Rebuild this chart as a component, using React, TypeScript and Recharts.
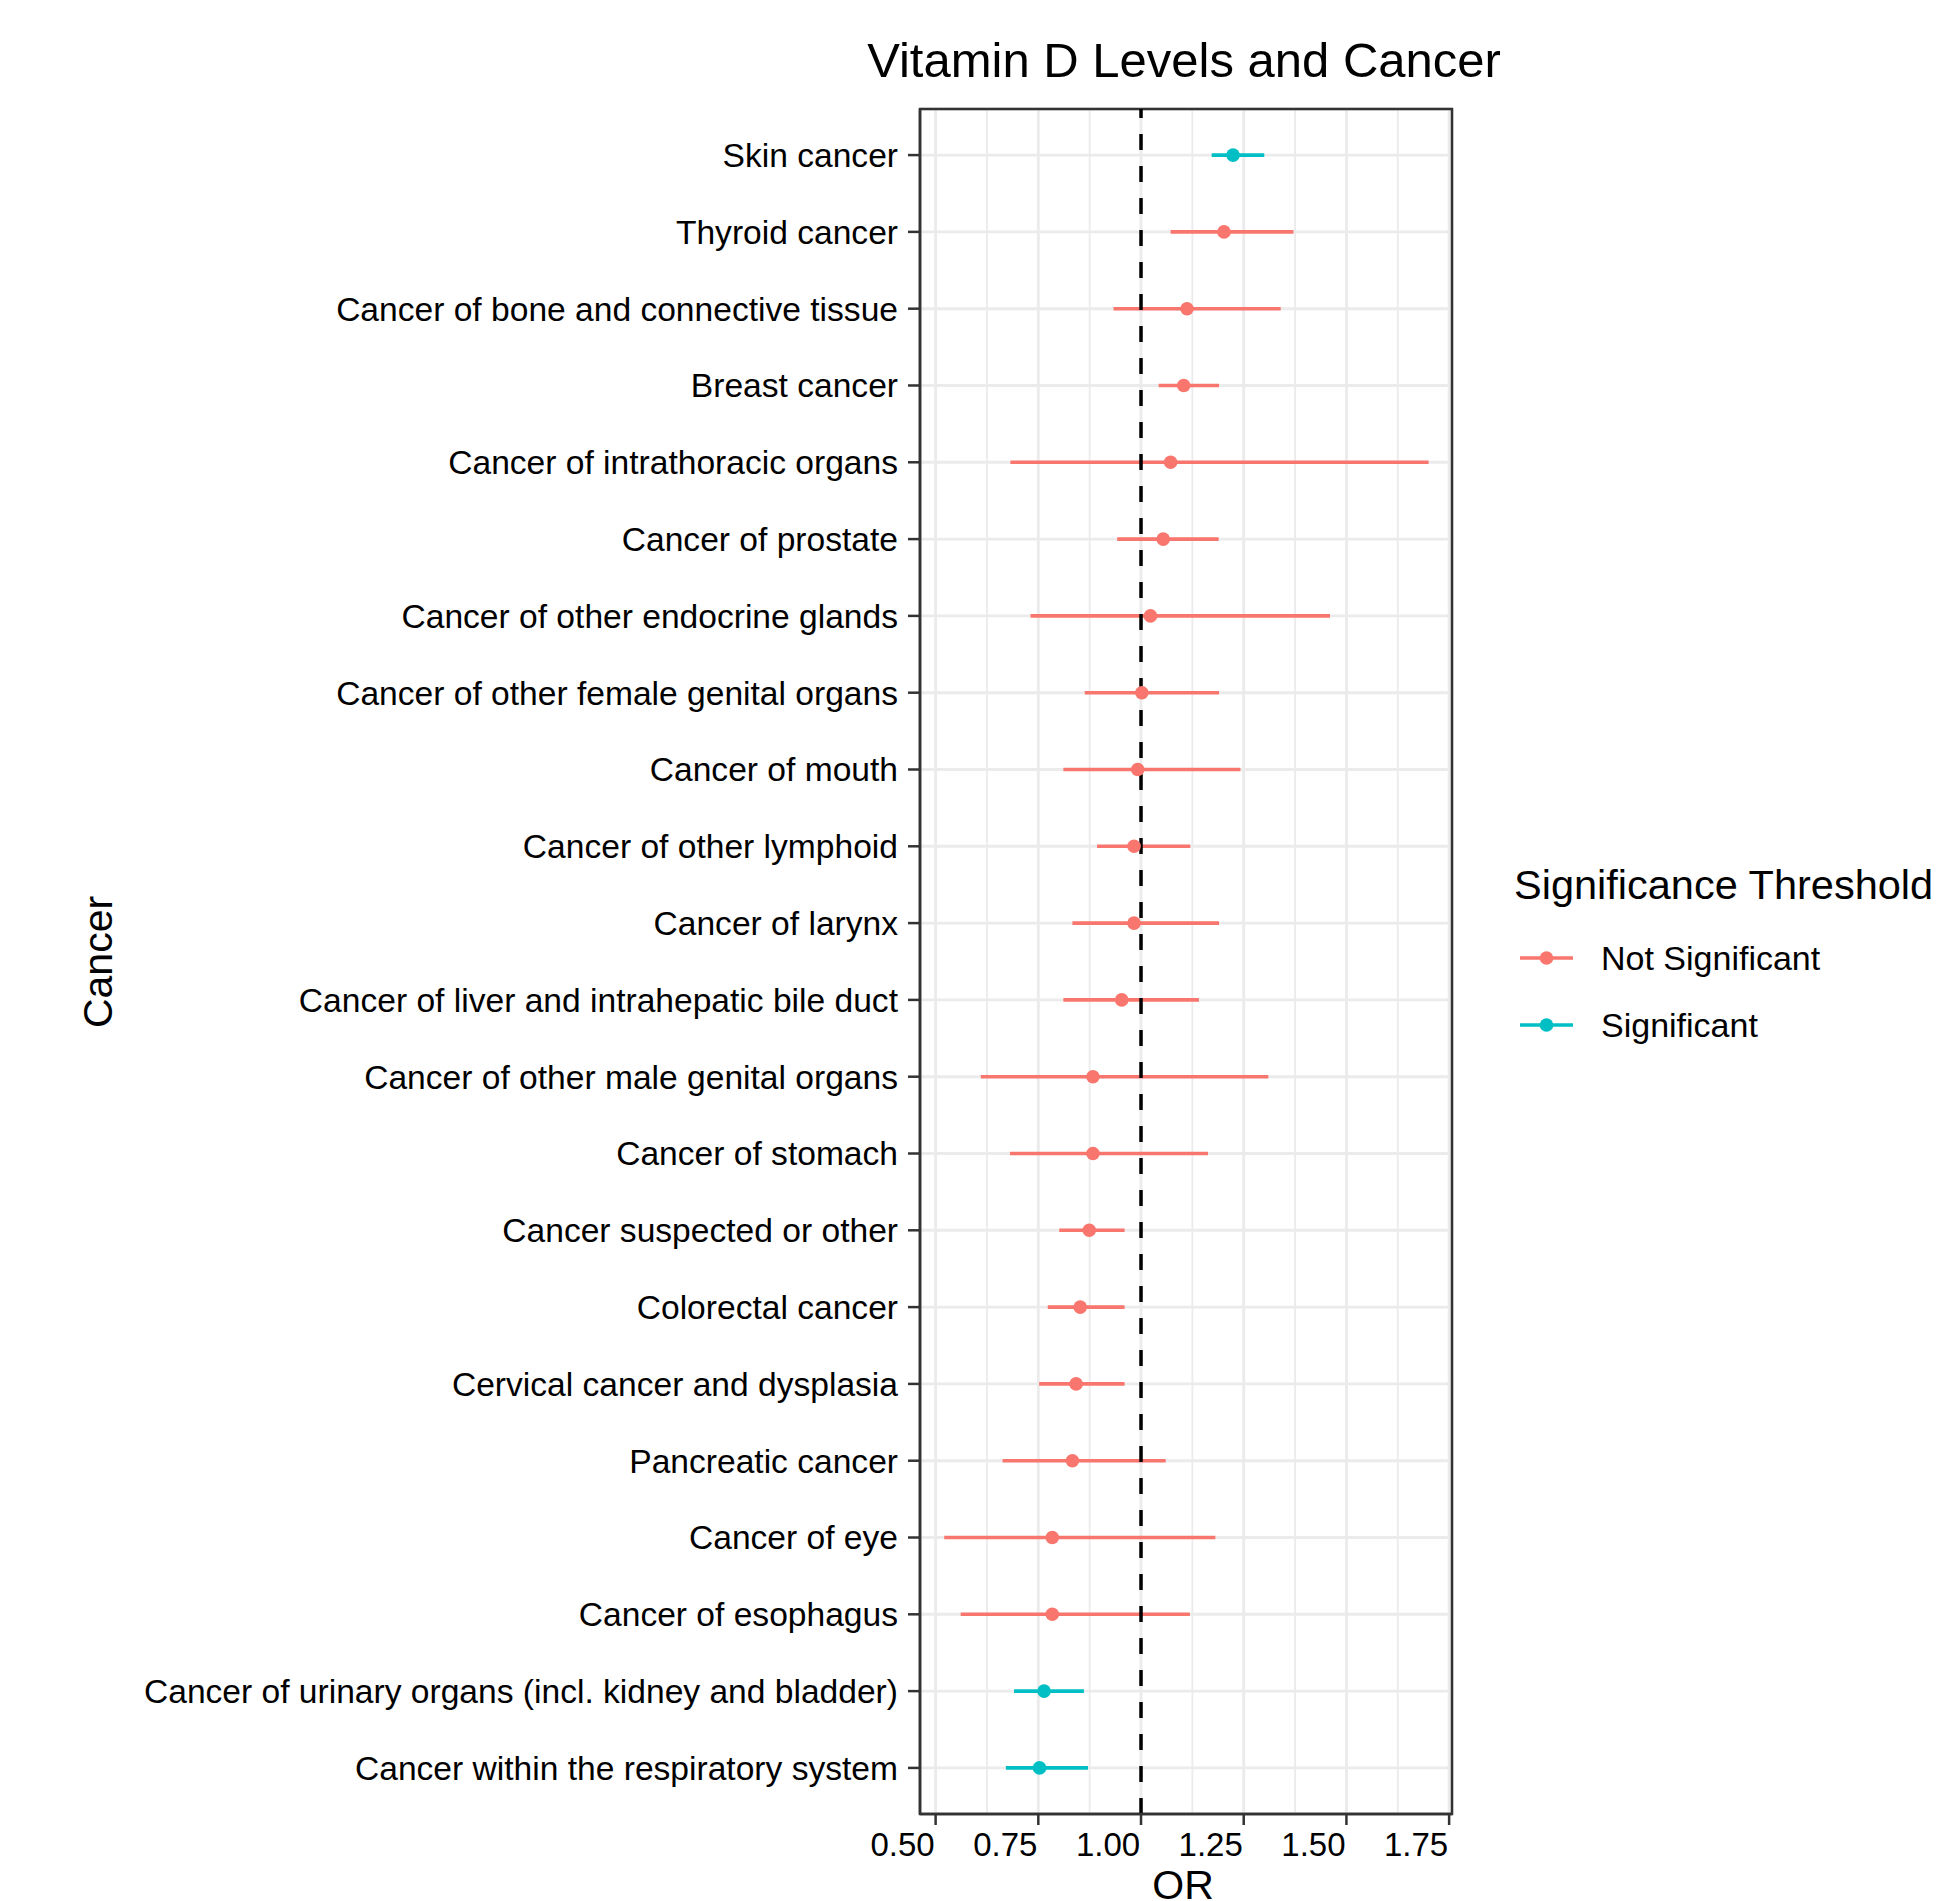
import React from 'react';
import {
  ComposedChart,
  Scatter,
  XAxis,
  YAxis,
  CartesianGrid,
  ErrorBar,
  ReferenceLine,
  ReferenceArea,
} from 'recharts';

// ---------- data ----------
const cancers = [
  'Skin cancer',
  'Thyroid cancer',
  'Cancer of bone and connective tissue',
  'Breast cancer',
  'Cancer of intrathoracic organs',
  'Cancer of prostate',
  'Cancer of other endocrine glands',
  'Cancer of other female genital organs',
  'Cancer of mouth',
  'Cancer of other lymphoid',
  'Cancer of larynx',
  'Cancer of liver and intrahepatic bile duct',
  'Cancer of other male genital organs',
  'Cancer of stomach',
  'Cancer suspected or other',
  'Colorectal cancer',
  'Cervical cancer and dysplasia',
  'Pancreatic cancer',
  'Cancer of eye',
  'Cancer of esophagus',
  'Cancer of urinary organs (incl. kidney and bladder)',
  'Cancer within the respiratory system',
];

const orValues = [
  1.224, 1.202, 1.112, 1.104, 1.072, 1.054, 1.023, 1.002, 0.992, 0.983, 0.983,
  0.953, 0.883, 0.883, 0.874, 0.852, 0.842, 0.833, 0.784, 0.784, 0.764, 0.753,
];

const lowerCI = [
  1.172, 1.072, 0.933, 1.043, 0.682, 0.942, 0.731, 0.863, 0.811, 0.893, 0.833,
  0.811, 0.61, 0.681, 0.801, 0.773, 0.752, 0.663, 0.521, 0.561, 0.691, 0.671,
];

const upperCI = [
  1.3, 1.371, 1.34, 1.19, 1.7, 1.189, 1.46, 1.19, 1.242, 1.12, 1.19, 1.141,
  1.31, 1.163, 0.96, 0.96, 0.96, 1.06, 1.181, 1.119, 0.861, 0.871,
];

const significant = [
  true, false, false, false, false, false, false, false, false, false, false,
  false, false, false, false, false, false, false, false, false, true, true,
];

const groups = ['Not Significant', 'Significant'];
const groupColors = ['#F8766D', '#00BFC4'];

const xTicks = [0.5, 0.75, 1.0, 1.25, 1.5, 1.75];
const xMinorTicks = [0.625, 0.875, 1.125, 1.375, 1.625];
const X_DOMAIN: [number, number] = [0.462, 1.757];
const Y_DOMAIN: [number, number] = [0.4, cancers.length + 0.6];
const referenceOR = 1;

const title = 'Vitamin D Levels and Cancer';
const xTitle = 'OR';
const yTitle = 'Cancer';
const legendTitle = 'Significance Threshold';

// ---------- derived ----------
const rows = cancers.map((name, i) => ({
  name,
  row: i + 1,
  or: orValues[i],
  err: [orValues[i] - lowerCI[i], upperCI[i] - orValues[i]],
  group: significant[i] ? 1 : 0,
}));
const seriesData = groups.map((_, g) => rows.filter((r) => r.group === g));
const rowTicks = rows.map((r) => r.row);

const FONT = '"Liberation Sans", Arial, Helvetica, sans-serif';
const W = 1936;
const H = 1901;

const makeDot = (color: string) => (props: any) => {
  const { cx, cy } = props;
  if (cx == null || cy == null) return <g />;
  return <circle cx={cx} cy={cy} r={6.8} fill={color} />;
};

export default function App() {
  return (
    <div
      style={{
        position: 'absolute',
        left: 0,
        top: 0,
        width: W,
        height: H,
        overflow: 'hidden',
        background: '#fff',
        fontFamily: FONT,
      }}
    >
      <ComposedChart
        width={W}
        height={H}
        margin={{ top: 109, right: 484, bottom: 0, left: 0 }}
        style={{ fontFamily: FONT }}
      >
        <XAxis
          xAxisId="minor"
          type="number"
          dataKey="or"
          domain={X_DOMAIN}
          allowDataOverflow
          ticks={xMinorTicks}
          interval={0}
          hide
        />
        <XAxis
          type="number"
          dataKey="or"
          domain={X_DOMAIN}
          allowDataOverflow
          ticks={xTicks}
          interval={0}
          tickFormatter={(v: number) => v.toFixed(2)}
          height={87}
          tickSize={11}
          tickMargin={8}
          tick={{ fill: '#000', fontSize: 33, fontFamily: FONT, dx: -33 }}
          tickLine={{ stroke: '#333', strokeWidth: 2.5 }}
          axisLine={{ stroke: '#333', strokeWidth: 2.5 }}
        />
        <YAxis
          type="number"
          dataKey="row"
          domain={Y_DOMAIN}
          allowDataOverflow
          reversed
          ticks={rowTicks}
          interval={0}
          tickFormatter={(v: number) => cancers[v - 1]}
          width={920}
          tickSize={12}
          tickMargin={10}
          tick={{ fill: '#000', fontSize: 33.6, fontFamily: FONT }}
          tickLine={{ stroke: '#333', strokeWidth: 2.5 }}
          axisLine={{ stroke: '#333', strokeWidth: 2.5 }}
        />
        <CartesianGrid
          xAxisId="minor"
          horizontal={false}
          stroke="#EBEBEB"
          strokeWidth={1.8}
        />
        <CartesianGrid stroke="#EBEBEB" strokeWidth={2.9} />
        {seriesData.map((data, g) => (
          <Scatter
            key={groups[g]}
            name={groups[g]}
            data={data}
            dataKey="or"
            fill={groupColors[g]}
            shape={makeDot(groupColors[g])}
            isAnimationActive={false}
          >
            <ErrorBar
              dataKey="err"
              direction="x"
              width={0}
              stroke={groupColors[g]}
              strokeWidth={3.6}
              isAnimationActive={false}
            />
          </Scatter>
        ))}
        <ReferenceLine
          x={referenceOR}
          stroke="#000"
          strokeWidth={3.5}
          strokeDasharray="16 16"
        />
        <ReferenceArea
          x1={X_DOMAIN[0]}
          x2={X_DOMAIN[1]}
          y1={Y_DOMAIN[0]}
          y2={Y_DOMAIN[1]}
          fill="none"
          fillOpacity={0}
          stroke="#333"
          strokeWidth={2.5}
        />
      </ComposedChart>

      <svg
        width={W}
        height={H}
        style={{ position: 'absolute', left: 0, top: 0, pointerEvents: 'none' }}
        fontFamily={FONT}
      >
        <text x={1184} y={77} textAnchor="middle" fontSize={49} fill="#000">
          {title}
        </text>
        <text
          transform="translate(112, 962) rotate(-90)"
          textAnchor="middle"
          fontSize={41}
          fill="#000"
        >
          {yTitle}
        </text>
        <text x={1183} y={1899} textAnchor="middle" fontSize={41} fill="#000">
          {xTitle}
        </text>
        <text x={1514} y={899} fontSize={41.5} fill="#000">
          {legendTitle}
        </text>
        {groups.map((g, i) => {
          const y = 958 + i * 67;
          return (
            <g key={g}>
              <line
                x1={1520}
                x2={1573}
                y1={y}
                y2={y}
                stroke={groupColors[i]}
                strokeWidth={3.4}
              />
              <circle cx={1546.5} cy={y} r={6.8} fill={groupColors[i]} />
              <text x={1601} y={y + 12} fontSize={34} fill="#000">
                {g}
              </text>
            </g>
          );
        })}
      </svg>
    </div>
  );
}
